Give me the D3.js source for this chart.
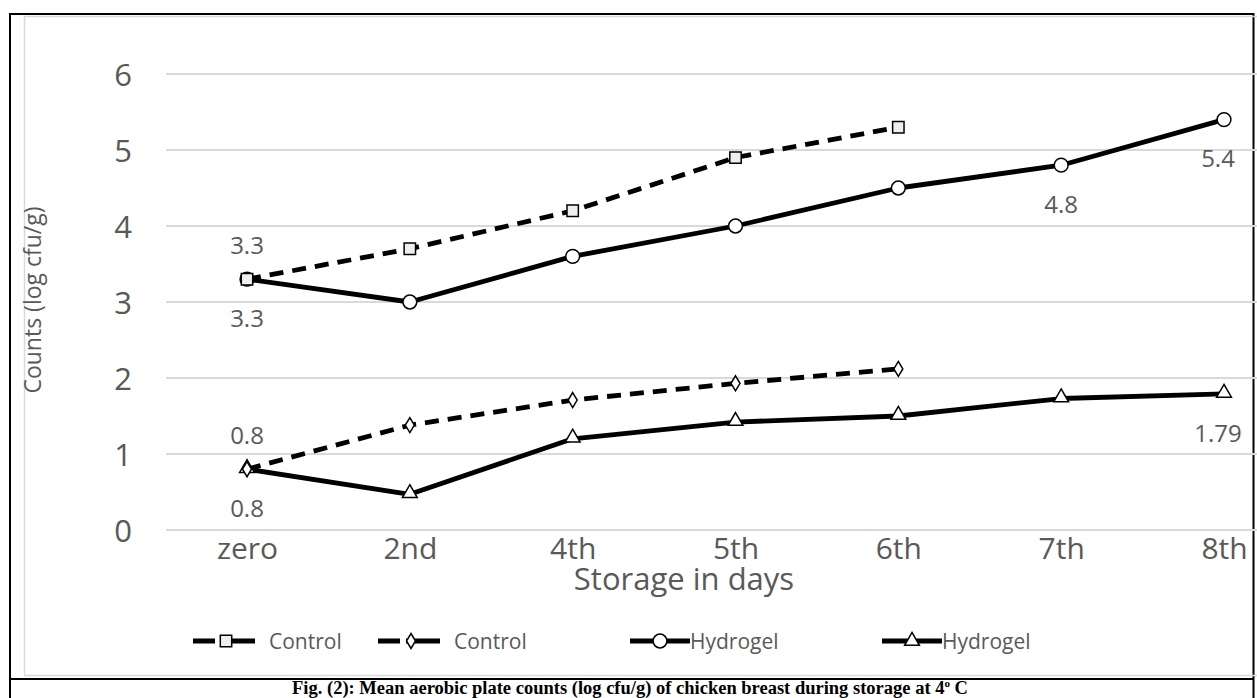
<!DOCTYPE html>
<html><head><meta charset="utf-8">
<script src="https://cdn.jsdelivr.net/npm/d3@7"></script>
<style>
html,body{margin:0;padding:0;background:#fff;}
svg{display:block;}
</style></head>
<body>
<svg id="chart" width="1257" height="698"></svg>
<script>
const categories = ["zero","2nd","4th","5th","6th","7th","8th"];
const yTicks = [0,1,2,3,4,5,6];
const controlSquare = [3.3, 3.7, 4.2, 4.9, 5.3];
const controlDiamond = [0.8, 1.38, 1.71, 1.93, 2.12];
const hydrogelCircle = [3.3, 3.0, 3.6, 4.0, 4.5, 4.8, 5.4];
const hydrogelTriangle = [0.8, 0.47, 1.2, 1.42, 1.5, 1.73, 1.79];
const legendNames = ["Control","Control","Hydrogel","Hydrogel"];
const dataLabels = [
  {series:"sq", i:0, text:"3.3", pos:"above"},
  {series:"ci", i:0, text:"3.3", pos:"below"},
  {series:"di", i:0, text:"0.8", pos:"above"},
  {series:"tr", i:0, text:"0.8", pos:"below"},
  {series:"ci", i:5, text:"4.8", pos:"below"},
  {series:"ci", i:6, text:"5.4", pos:"below"},
  {series:"tr", i:6, text:"1.79", pos:"below"}
];

const font = "'Open Sans', 'Noto Sans', sans-serif";
const svg = d3.select("#chart");

// frames
svg.append("rect").attr("x",10).attr("y",14).attr("width",1243.5).attr("height",690)
  .attr("fill","none").attr("stroke","#000").attr("stroke-width",2);
svg.append("line").attr("x1",24).attr("x2",1257).attr("y1",16.5).attr("y2",16.5).attr("stroke","#d9d9d9").attr("stroke-width",1.5);
svg.append("line").attr("x1",24.5).attr("x2",24.5).attr("y1",16).attr("y2",675).attr("stroke","#d9d9d9").attr("stroke-width",1.5);
svg.append("line").attr("x1",24).attr("x2",1257).attr("y1",675.5).attr("y2",675.5).attr("stroke","#d9d9d9").attr("stroke-width",1.5);
svg.append("line").attr("x1",10).attr("x2",1254).attr("y1",679).attr("y2",679).attr("stroke","#000").attr("stroke-width",2);

const x = d3.scalePoint().domain(categories).range([247,1224]);
const y = d3.scaleLinear().domain([0,6]).range([530,74]);

// grid
svg.append("g").selectAll("line").data(yTicks).join("line")
  .attr("x1",166).attr("x2",1257).attr("y1",d=>y(d)).attr("y2",d=>y(d))
  .attr("stroke","#d9d9d9").attr("stroke-width",2);

// y axis labels
const yAxis = d3.axisLeft(y).tickValues(yTicks).tickSize(0).tickPadding(0).tickFormat(d3.format("d"));
const gy = svg.append("g").attr("transform","translate(132,0)").call(yAxis);
gy.select(".domain").remove();
gy.selectAll("text").attr("font-family",font).attr("font-size",31).attr("fill","#595959").attr("dy","0.36em");

// x axis labels
const xAxis = d3.axisBottom(x).tickSize(0).tickPadding(0);
const gx = svg.append("g").attr("transform","translate(0,548)").call(xAxis);
gx.select(".domain").remove();
gx.selectAll("text").attr("font-family",font).attr("font-size",30).attr("fill","#595959").attr("y",0).attr("dy","0.36em");

// axis titles
svg.append("text").attr("x",684).attr("y",579).attr("dy","0.36em").attr("text-anchor","middle")
  .attr("font-family",font).attr("font-size",31).attr("fill","#595959").text("Storage in days");
svg.append("text").attr("transform","translate(33,300) rotate(-90)").attr("dy","0.36em").attr("text-anchor","middle")
  .attr("font-family",font).attr("font-size",23).attr("fill","#595959").text("Counts (log cfu/g)");

const line = d3.line().x((d,i)=>x(categories[i])).y(d=>y(d));
const seriesDefs = {
  sq:{data:controlSquare, dash:"14,9", sym:d3.symbolSquare, size:130, fill:"#eeeeee"},
  di:{data:controlDiamond, dash:"14,9", sym:"diamond", size:0, fill:"#fff"},
  ci:{data:hydrogelCircle, dash:null, sym:d3.symbolCircle, size:150, fill:"#fff"},
  tr:{data:hydrogelTriangle, dash:null, sym:d3.symbolTriangle, size:95, fill:"#fff"}
};
function markerPath(def){
  if(def.sym==="diamond") return "M0,-7.5L4.5,0L0,7.5L-4.5,0Z";
  return d3.symbol().type(def.sym).size(def.size)();
}
const order = ["tr","di","ci","sq"];
order.forEach(k=>{
  const def = seriesDefs[k];
  svg.append("path").datum(def.data).attr("d",line).attr("fill","none")
    .attr("stroke","#000").attr("stroke-width",4.8)
    .attr("stroke-dasharray",def.dash).attr("stroke-linejoin","round");
});
order.forEach(k=>{
  const def = seriesDefs[k];
  svg.append("g").selectAll("path").data(def.data).join("path")
    .attr("d",markerPath(def))
    .attr("transform",(d,i)=>`translate(${x(categories[i])},${y(d) + (k==="tr"?-1:0)})`)
    .attr("fill",def.fill).attr("stroke","#000").attr("stroke-width",1.5);
});

// data labels
svg.append("g").selectAll("text").data(dataLabels).join("text")
  .attr("x",d=>x(categories[d.i]) - (d.i===6?6:0))
  .attr("y",d=>y(seriesDefs[d.series].data[d.i]) + (d.pos==="above"?-34:39))
  .attr("text-anchor","middle").attr("font-family",font).attr("font-size",24).attr("fill","#595959")
  .attr("dy","0.36em").text(d=>d.text);

// legend
const legendX = [193, 378, 630, 882];
const legendKeys = ["sq","di","ci","tr"];
const lg = svg.append("g");
legendKeys.forEach((k,i)=>{
  const def = seriesDefs[k];
  const x0 = legendX[i];
  const dashed = !!def.dash;
  const len = dashed ? 62 : 60;
  lg.append("line").attr("x1",x0).attr("x2",x0+len).attr("y1",641).attr("y2",641)
    .attr("stroke","#000").attr("stroke-width",5)
    .attr("stroke-dasharray", dashed ? "22,6,40" : null);
  lg.append("path").attr("d",markerPath(def)).attr("transform",`translate(${x0+(dashed?33:30)},641)`)
    .attr("fill",def.fill).attr("stroke","#000").attr("stroke-width",1.5);
  lg.append("text").attr("x", x0 + (dashed?76:60)).attr("y",641).attr("dy","0.36em")
    .attr("font-family",font).attr("font-size",21).attr("fill","#595959").text(legendNames[i]);
});

// caption
const cap = svg.append("text").attr("x",630).attr("y",694).attr("text-anchor","middle")
  .attr("font-family","'Liberation Serif', 'Times New Roman', serif").attr("font-size",18.5).attr("font-weight","bold").attr("fill","#000");
cap.append("tspan").text("Fig. (2): Mean aerobic plate counts (log cfu/g) of chicken breast during storage at 4");
cap.append("tspan").attr("dy",-7).attr("font-size",11).text("o");
cap.append("tspan").attr("dy",7).text(" C");
</script>
</body></html>
